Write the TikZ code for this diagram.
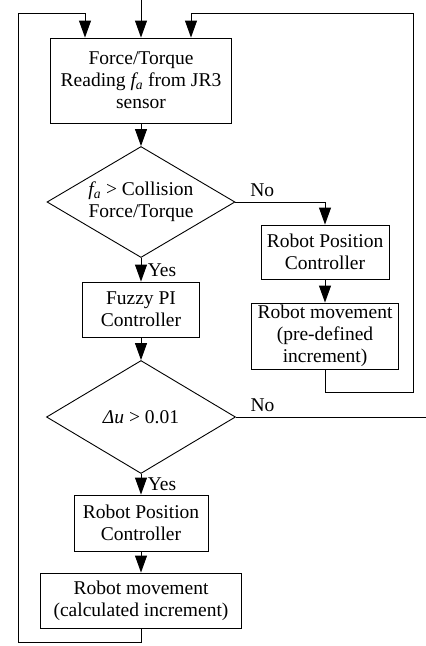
\documentclass[tikz,border=0pt]{standalone}
\usepackage{fontspec}
\setmainfont{Liberation Serif}
\usepackage{tikz}
\usetikzlibrary{arrows.meta,shapes.geometric}

\tikzset{
  block/.style={draw=black, rectangle, align=center, inner sep=0pt},
  decision/.style={draw=black, diamond, aspect=1.7, align=center, inner sep=-12pt},
  arr/.style={-{Triangle[length=17pt,width=12pt]}},
}

\begin{document}
\begin{tikzpicture}[x=1pt, y=-1pt, line width=0.9pt,
    font=\fontsize{19.5}{22}\selectfont]
     \useasboundingbox (0,0) rectangle (426,646);

     \coordinate (in) at (141,0);
     \coordinate (topL) at (85,13);
     \coordinate (topR) at (191,13);
     \coordinate (loopL) at (18,642);
     \coordinate (loopR) at (413,392);
     \coordinate (exit) at (426,417);

     \node[block, minimum width=181pt, minimum height=85pt] (force) at (141,80.5)
        {Force/Torque\\Reading {\itshape f\textsubscript{a}} from JR3\\sensor};
     \node[decision, minimum width=188pt, minimum height=111pt] (coll) at (141,202)
        {{\itshape f\textsubscript{a}} > Collision\\Force/Torque};
     \node[block, minimum width=117pt, minimum height=55pt] (fuzzy) at (141,309.5)
        {Fuzzy PI\\Controller};
     \node[decision, minimum width=189pt, minimum height=113pt] (du) at (141,417)
        {{\itshape Δu} > 0.01};
     \node[block, minimum width=134pt, minimum height=56pt] (rpcB) at (141,523)
        {Robot Position\\Controller};
     \node[block, minimum width=201pt, minimum height=55pt] (moveB) at (141,600.5)
        {Robot movement\\(calculated increment)};
     \node[block, minimum width=128pt, minimum height=54pt] (rpcA) at (325,252)
        {Robot Position\\Controller};
     \node[block, minimum width=147pt, minimum height=66pt] (moveA) at (325,336)
        {Robot movement\\(pre-defined\\increment)};

     % main column
     \draw[arr] (in) -- (force);
     \draw[arr] (force) -- (coll);
     \draw[arr] (coll) -- node[right, xshift=3pt] {Yes} (fuzzy);
     \draw[arr] (fuzzy) -- (du);
     \draw[arr] (du) -- node[right, xshift=3pt] {Yes} (rpcB);
     \draw[arr] (rpcB) -- (moveB);

     % branch when no collision
     \draw[arr] (coll.east) -| node[pos=0.15, above, yshift=2pt] {No} (rpcA.north);
     \draw[arr] (rpcA) -- (moveA);
     \draw (du.east) -- node[pos=0.14, above, yshift=2pt] {No} (exit);

     % feedback loops
     \draw[arr] (moveA.south) |- (loopR) |- (topR) -- (topR |- force.north);
     \draw[arr] (moveB.south) |- (loopL) |- (topL) -- (topL |- force.north);
    \end{tikzpicture}
\end{document}
